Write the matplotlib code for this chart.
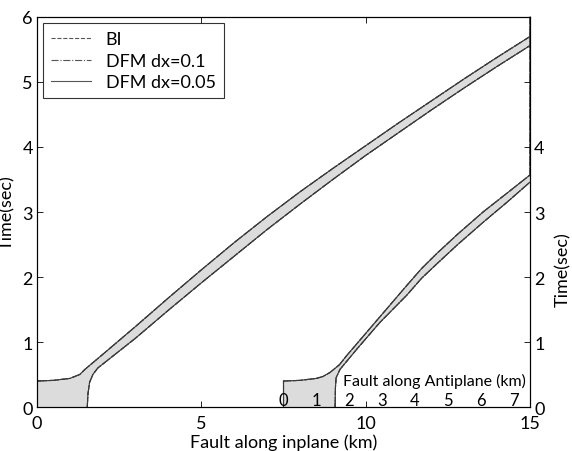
import matplotlib.pyplot as plt
import numpy as np

plt.rcParams["font.family"] = ["Lato", "DejaVu Sans"]

# inplane fault: rupture front (upper edge) and end of slip (lower edge), km / sec
inplane_x_up = [0, 0.5, 1.0, 1.3, 1.46, 2, 3, 4, 5, 6, 7, 8, 9, 10, 11, 12, 13, 14, 15]
inplane_t_up = [0.40, 0.41, 0.44, 0.50, 0.58, 0.81, 1.24, 1.68, 2.11, 2.53, 2.93,
                3.31, 3.67, 4.02, 4.37, 4.71, 5.05, 5.38, 5.70]
inplane_x_lo = [1.53, 1.55, 1.6, 1.7, 1.85, 2, 3, 4, 5, 6, 7, 8, 9, 10, 11, 12, 13, 14, 15]
inplane_t_lo = [0.0, 0.2, 0.38, 0.5, 0.6, 0.66, 1.06, 1.49, 1.91, 2.32, 2.73,
                3.12, 3.50, 3.87, 4.22, 4.57, 4.91, 5.24, 5.56]

# antiplane fault (drawn from 7.5 km of the inplane axis on)
anti_offset = 7.5
anti_x_up = [0, 0, 0.5, 1.0, 1.2, 1.41, 1.7, 1.92, 2.53, 3.14, 3.75, 4.2, 4.66,
             5.3, 6.07, 6.8, 7.5, 7.5]
anti_t_up = [0.0, 0.40, 0.41, 0.44, 0.47, 0.53, 0.65, 0.79, 1.15, 1.51, 1.87,
             2.13, 2.36, 2.66, 3.0, 3.29, 3.57, 6.0]
anti_x_lo = [1.57, 1.58, 1.6, 1.72, 2.23, 2.93, 3.75, 4.2, 4.66, 5.3, 6.07, 6.8, 7.5]
anti_t_lo = [0.0, 0.3, 0.45, 0.58, 0.89, 1.30, 1.72, 1.98, 2.20, 2.50, 2.84, 3.15, 3.46]
anti_ticks = [0, 1, 2, 3, 4, 5, 6, 7]

methods = ["BI", "DFM dx=0.1", "DFM dx=0.05"]
styles = ["--", "-.", "-"]

fig = plt.figure(figsize=(5.72, 4.52), dpi=100)
ax = fig.add_axes([0.0647, 0.0973, 0.8619, 0.8629])

band = "#dcdcdc"
edge = "#3a3a3a"

# gray slipping bands
ax.fill(
    [0] + inplane_x_up + inplane_x_lo[::-1],
    [0] + inplane_t_up + inplane_t_lo[::-1],
    color=band, lw=0,
)
ax_x_up = np.array(anti_x_up) + anti_offset
ax_x_lo = np.array(anti_x_lo) + anti_offset
ax.fill(
    list(ax_x_up) + list(ax_x_lo[::-1]),
    anti_t_up + anti_t_lo[::-1],
    color=band, lw=0,
)

for name, ls in zip(methods, styles):
    ax.plot(inplane_x_up, inplane_t_up, ls=ls, color=edge, lw=0.8, label=name)
    ax.plot(inplane_x_lo, inplane_t_lo, ls=ls, color=edge, lw=0.8)
    ax.plot(ax_x_up, anti_t_up, ls=ls, color=edge, lw=0.8, clip_on=False)
    ax.plot(ax_x_lo, anti_t_lo, ls=ls, color=edge, lw=0.8)

ax.set_xlim(0, 15)
ax.set_ylim(0, 6)
ax.set_xticks([0, 5, 10, 15])
ax.set_yticks([0, 1, 2, 3, 4, 5, 6])
ax.tick_params(direction="in", top=True, labelsize=13, pad=3, length=4, width=0.6)
ax.tick_params(axis="x", pad=6)
for sp in ax.spines.values():
    sp.set_linewidth(0.8)
ax.set_xlabel("Fault along inplane (km)", fontsize=13)
ax.xaxis.set_label_coords(0.5, -0.068)
ax.set_ylabel("Time(sec)", fontsize=13)
ax.yaxis.set_label_coords(-0.045, 0.5)

leg = ax.legend(loc="upper left", fontsize=13, frameon=True, fancybox=False,
                handlelength=2.2, borderaxespad=0.35, labelspacing=0.3,
                borderpad=0.45, handletextpad=0.8)
leg.get_frame().set_edgecolor("black")
leg.get_frame().set_linewidth(0.8)
for h in leg.get_lines():
    h.set_color("#555555")

# right time axis
ax_r = ax.twinx()
ax_r.set_ylim(0, 6)
ax_r.set_yticks([0, 1, 2, 3, 4, 5])
ax_r.set_yticklabels(["0", "1", "2", "3", "4", ""])
ax_r.tick_params(direction="in", labelsize=13, pad=3, length=4, width=0.6)
ax_r.set_ylabel("Time(sec)", fontsize=13)
ax_r.yaxis.set_label_coords(1.051, 0.356)

# antiplane distance axis, sitting inside the plot
sec = ax.secondary_xaxis(0, functions=(lambda x: x - anti_offset,
                                       lambda a: a + anti_offset))
sec.set_zorder(5)
sec.set_xticks(anti_ticks)
sec.spines["bottom"].set_visible(False)
sec.tick_params(length=0, pad=-11, labelsize=12)
ax.text(0.807, 0.069, "Fault along Antiplane (km)", transform=ax.transAxes,
        ha="center", va="center", fontsize=11.5, zorder=6)

plt.savefig("out.png", dpi=100)
plt.close()
